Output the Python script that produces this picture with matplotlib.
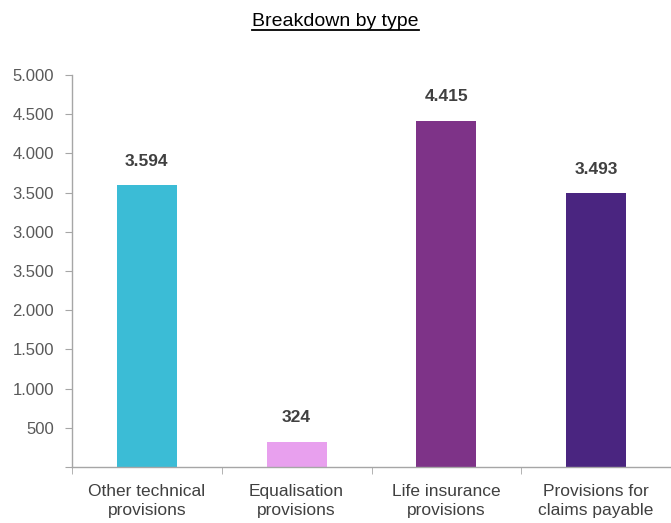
import matplotlib.pyplot as plt
from matplotlib.lines import Line2D
import numpy as np

plt.rcParams['font.family'] = ['Liberation Sans', 'DejaVu Sans']

# data
categories = ["Other technical\nprovisions", "Equalisation\nprovisions",
              "Life insurance\nprovisions", "Provisions for\nclaims payable"]
values = [3594, 324, 4415, 3493]
value_labels = ["3.594", "324", "4.415", "3.493"]
colors = ["#3BBCD6", "#E8A0EE", "#7E3388", "#4A2580"]
y_ticks = [0, 500, 1000, 1500, 2000, 2500, 3000, 3500, 4000, 4500, 5000]
y_tick_labels = ["", "500", "1.000", "1.500", "2.000", "3.500", "3.000",
                 "3.500", "4.000", "4.500", "5.000"]

fig = plt.figure(figsize=(6.71, 5.23), dpi=100)
ax = fig.add_axes((72/671, 1-467/523, 1-72/671, (467-75)/523))

x = np.arange(len(values))
ax.bar(x, values, width=0.4, color=colors)
for xi, v, lab in zip(x, values, value_labels):
    ax.annotate(lab, (xi, v), xytext=(0, 24), textcoords='offset pixels',
                ha='center', va='center', fontsize=12.5, fontweight='bold',
                color='#404040')

ax.set_xlim(-0.5, 3.5)
ax.set_ylim(0, 5000)
ax.set_yticks(y_ticks, y_tick_labels)
ax.set_xticks(x, categories)
ax.set_xticks(np.arange(-0.5, 3.6, 1.0), minor=True)
ax.tick_params(axis='x', which='major', length=0, pad=12, labelsize=12.5,
               labelcolor='#404040')
ax.tick_params(axis='x', which='minor', length=5, color='#A6A6A6')
ax.tick_params(axis='y', length=5, color='#A6A6A6', labelsize=12,
               labelcolor='#595959', pad=8)
for lab in ax.get_xticklabels():
    lab.set_linespacing(1.4)
for s in ('top', 'right'):
    ax.spines[s].set_visible(False)
for s in ('left', 'bottom'):
    ax.spines[s].set_color('#A6A6A6')
    ax.spines[s].set_linewidth(1.0)

# underlined title
title = fig.text(0.5, 1-21/523, "Breakdown by type", ha='center', va='center',
                 fontsize=14, color='black')
fig.canvas.draw()
bb = title.get_window_extent().transformed(fig.transFigure.inverted())
fig.add_artist(Line2D([bb.x0, bb.x1], [bb.y0 - 0.001, bb.y0 - 0.001],
                      transform=fig.transFigure, color='black', lw=1.3))

fig.savefig("out.png", dpi=100)
